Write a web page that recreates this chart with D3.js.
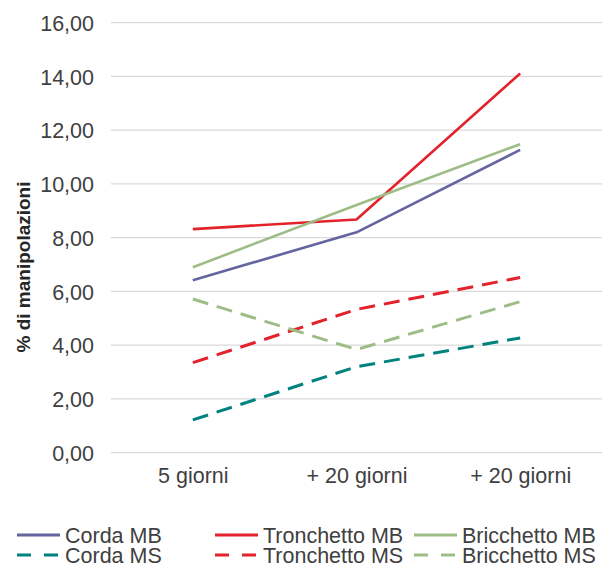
<!DOCTYPE html>
<html>
<head>
<meta charset="utf-8">
<script src="https://cdn.jsdelivr.net/npm/d3@7/dist/d3.min.js"></script>
<style>
  html, body { margin: 0; padding: 0; background: #fff; overflow: hidden; }
  svg { display: block; font-family: "Liberation Sans", Arial, sans-serif; }
</style>
</head>
<body>
<svg id="chart" width="604" height="565"></svg>
<script>
// Categories on the x axis (keys kept unique, labels may repeat)
const categoryKeys = ["t1", "t2", "t3"];
const categoryLabels = ["5 giorni", "+ 20 giorni", "+ 20 giorni"];

// Series values (% di manipolazioni)
const cordaMB       = [6.42, 8.20, 11.27];
const tronchettoMB  = [8.32, 8.68, 14.11];
const bricchettoMB  = [6.90, 9.22, 11.48];
const cordaMS       = [1.22, 3.20, 4.27];
const tronchettoMS  = [3.35, 5.33, 6.52];
const bricchettoMS  = [5.72, 3.84, 5.62];

// Y axis ticks
const yTicks = [0, 2, 4, 6, 8, 10, 12, 14, 16];

const series = [
  { name: "Corda MB",      values: cordaMB,      color: "#6464a0", dashed: false },
  { name: "Tronchetto MB", values: tronchettoMB, color: "#e3222b", dashed: false },
  { name: "Bricchetto MB", values: bricchettoMB, color: "#9dbd86", dashed: false },
  { name: "Corda MS",      values: cordaMS,      color: "#00827e", dashed: true },
  { name: "Tronchetto MS", values: tronchettoMS, color: "#e3222b", dashed: true },
  { name: "Bricchetto MS", values: bricchettoMS, color: "#9dbd86", dashed: true }
];

const svg = d3.select("#chart");
const plot = { left: 111, right: 602, top: 22.7, bottom: 452.7 };

const x = d3.scalePoint()
  .domain(categoryKeys)
  .range([plot.left, plot.right])
  .padding(0.5);

const y = d3.scaleLinear()
  .domain([0, 16])
  .range([plot.bottom, plot.top]);

// Horizontal gridlines
svg.append("g")
  .selectAll("line")
  .data(yTicks)
  .join("line")
  .attr("x1", plot.left)
  .attr("x2", plot.right)
  .attr("y1", d => y(d))
  .attr("y2", d => y(d))
  .attr("stroke", "#d9d9d9")
  .attr("stroke-width", 1.2);

// Y axis tick labels
const fmt = d => d3.format(".2f")(d).replace(".", ",");
const yAxis = d3.axisLeft(y).tickValues(yTicks).tickFormat(fmt).tickSize(0).tickPadding(0);
const gy = svg.append("g").attr("transform", `translate(94,0)`).call(yAxis);
gy.select(".domain").remove();
gy.selectAll("text")
  .attr("fill", "#404040")
  .style("font-size", "21.5px")
  .style("font-family", "'Liberation Sans', Arial, sans-serif")
  .attr("dy", "0.36em");

// X axis labels
const xAxis = d3.axisBottom(x).tickFormat((d, i) => categoryLabels[i]).tickSize(0).tickPadding(0);
const gx = svg.append("g").attr("transform", `translate(0,467)`).call(xAxis);
gx.select(".domain").remove();
gx.selectAll("text")
  .attr("fill", "#404040")
  .style("font-size", "21.5px")
  .style("font-family", "'Liberation Sans', Arial, sans-serif")
  .attr("dy", "0.76em");

// Y axis title
svg.append("text")
  .attr("transform", `translate(29.5,267) rotate(-90)`)
  .attr("text-anchor", "middle")
  .attr("fill", "#262626")
  .style("font-size", "19px")
  .style("font-weight", "bold")
  .text("% di manipolazioni");

// Lines
const line = d3.line()
  .x((d, i) => x(categoryKeys[i]))
  .y(d => y(d));

svg.append("g")
  .selectAll("path")
  .data(series)
  .join("path")
  .attr("d", s => line(s.values))
  .attr("fill", "none")
  .attr("stroke", s => s.color)
  .attr("stroke-width", s => s.dashed ? 3 : 2.6)
  .attr("stroke-dasharray", s => s.dashed ? "16,9" : null)
  .attr("stroke-linejoin", "round");

// Legend: three columns, two rows
const legendCols = [17, 215, 414];
const legendRows = [535, 555];
const legend = svg.append("g");
series.forEach((s, i) => {
  const cx = legendCols[i % 3];
  const cy = legendRows[Math.floor(i / 3)];
  legend.append("line")
    .attr("x1", cx).attr("x2", cx + 43)
    .attr("y1", cy).attr("y2", cy)
    .attr("stroke", s.color)
    .attr("stroke-width", 3)
    .attr("stroke-dasharray", s.dashed ? "14,13" : null);
  legend.append("text")
    .attr("x", cx + 48)
    .attr("y", cy)
    .attr("dy", "0.36em")
    .attr("fill", "#404040")
    .style("font-size", "21.5px")
    .text(s.name);
});
</script>
</body>
</html>
